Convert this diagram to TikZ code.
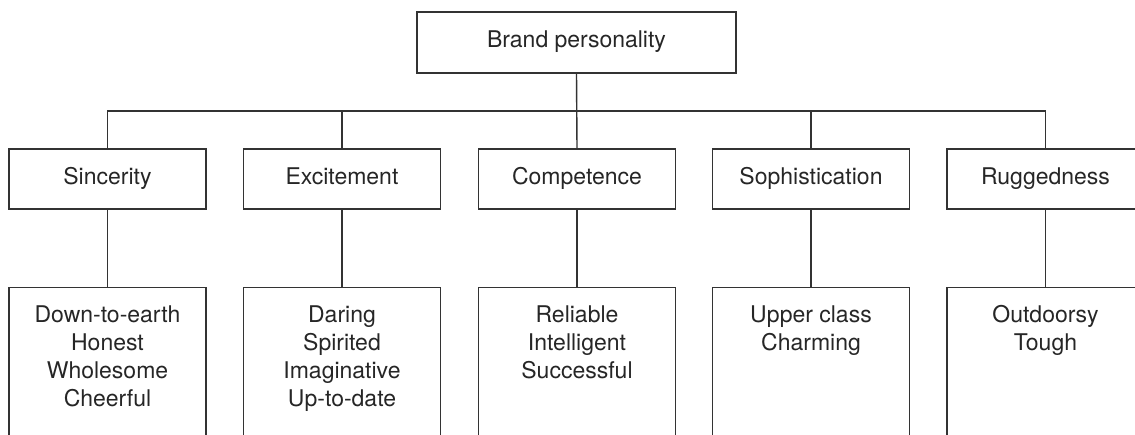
\documentclass[tikz,border=0pt]{standalone}
\usepackage{fontspec}
\setmainfont{TeX Gyre Heros}
\usetikzlibrary{positioning}

\tikzset{
  trait/.style={draw=black!80, line width=0.7pt, minimum width=98.5pt,
    minimum height=30pt, inner sep=0pt, text=black!85,
    text height=8pt, text depth=3pt,
    font=\fontsize{11.5}{14}\selectfont},
  facet/.style={draw=black!80, line width=0.7pt, minimum width=98.5pt,
    minimum height=100pt, anchor=north},
  facettext/.style={align=center, inner sep=0pt, text=black!85,
    font=\fontsize{11.5}{14}\selectfont},
  link/.style={draw=black!80, line width=0.7pt}
}

\begin{document}
\begin{tikzpicture}[x=0.5pt,y=-0.5pt]
\useasboundingbox (0,0) rectangle (1135,434);
\clip (0,0) rectangle (1135,434);
% top of the tree
\node[trait, minimum width=159.5pt, minimum height=30.5pt] (brand) at (576.5,42.5) {Brand personality};
\coordinate (bus) at (0,111);
% the five dimensions
\node[trait] (sin) at (107.5,179) {Sincerity};
\node[trait] (exc) at (342,179) {Excitement};
\node[trait] (com) at (577,179) {Competence};
\node[trait] (sop) at (811,179) {Sophistication};
\node[trait] (rug) at (1045.5,179) {Ruggedness};
% facet boxes, cut off at the bottom
\node[facet] (sinF) at (107.5,287) {};
\node[facet] (excF) at (342,287) {};
\node[facet] (comF) at (577,287) {};
\node[facet] (sopF) at (811,287) {};
\node[facet] (rugF) at (1045.5,287) {};
\node[facettext, below=9pt of sinF.north] (sinT) {Down-to-earth\\Honest\\Wholesome\\Cheerful};
\node[facettext, below=9pt of excF.north] (excT) {Daring\\Spirited\\Imaginative\\Up-to-date};
\node[facettext, below=9pt of comF.north] (comT) {Reliable\\Intelligent\\Successful};
\node[facettext, below=9pt of sopF.north] (sopT) {Upper class\\Charming};
\node[facettext, below=9pt of rugF.north] (rugT) {Outdoorsy\\Tough};
% connectors
\draw[link] (brand.south) -- (com.north);
\draw[link] (sin.north) -- (sin.north |- bus) -- (rug.north |- bus) -- (rug.north);
\draw[link] (exc.north) -- (exc.north |- bus);
\draw[link] (sop.north) -- (sop.north |- bus);
\draw[link] (sin.south) -- (sinF.north);
\draw[link] (exc.south) -- (excF.north);
\draw[link] (com.south) -- (comF.north);
\draw[link] (sop.south) -- (sopF.north);
\draw[link] (rug.south) -- (rugF.north);
\end{tikzpicture}
\end{document}
